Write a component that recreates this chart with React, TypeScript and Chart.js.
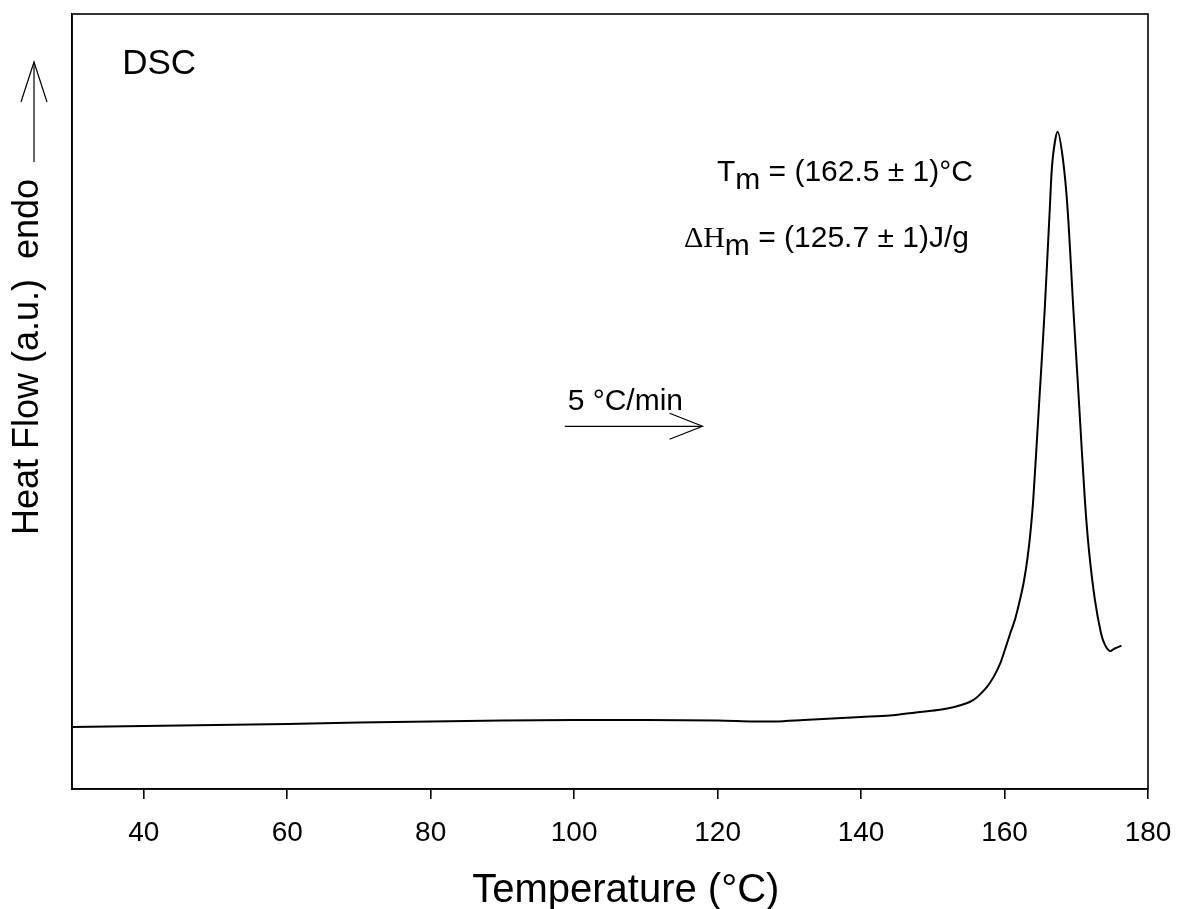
import React, { useEffect, useRef } from "react";
import { Chart, registerables } from "chart.js";

Chart.register(...registerables);

// Temperature (°C)
const temperature = [30, 40, 50, 60, 70, 80, 90, 100, 110, 120, 125, 128, 132, 136, 140, 144, 148.2, 151, 153, 154.7, 155.5, 156.3, 157.5, 158.5, 159.4, 160.1, 160.8, 161.5, 162.2, 162.7, 163.2, 163.6, 164.0, 164.85, 165.6, 166.3, 166.7, 167.4, 168.15, 168.8, 169.6, 170.36, 171.2, 171.77, 172.6, 173.45, 174.0, 174.7, 175.3, 176.3];
// Heat flow (a.u.)
const heatFlow = [8.0, 8.13, 8.26, 8.39, 8.58, 8.71, 8.84, 8.9, 8.9, 8.84, 8.71, 8.71, 8.9, 9.1, 9.29, 9.48, 9.94, 10.22, 10.58, 11.06, 11.4, 11.95, 13.1, 14.5, 16.2, 18.1, 20.1, 22.0, 24.6, 26.8, 29.8, 33.0, 37.3, 50.2, 61.8, 74.7, 81.2, 84.8, 81.2, 74.7, 61.8, 50.2, 37.3, 30.8, 24.4, 20.1, 18.6, 17.8, 18.1, 18.5];
const xTickValues = [40, 60, 80, 100, 120, 140, 160, 180];

const xTitle = "Temperature (°C)";
const yTitle = "Heat Flow (a.u.)  endo";
const panelLabel = "DSC";
const tmLabel = " = (162.5 ± 1)°C";
const dhLabel = " = (125.7 ± 1)J/g";
const rateLabel = "5 °C/min";

const SANS = "'Liberation Sans', Arial, sans-serif";
const SERIF = "'Liberation Serif', 'Times New Roman', serif";

function arrowHead(ctx: CanvasRenderingContext2D, tx: number, ty: number, dx: number, dy: number, len: number, half: number) {
  const bx = tx - dx * len;
  const by = ty - dy * len;
  const px = -dy, py = dx;
  ctx.beginPath();
  ctx.moveTo(bx + px * half, by + py * half);
  ctx.lineTo(tx, ty);
  ctx.lineTo(bx - px * half, by - py * half);
  ctx.stroke();
}

const annotPlugin = {
  id: "annot",
  afterDraw(chart: any) {
    const { ctx, chartArea: ca, scales } = chart;
    const x = scales.x;
    const y = scales.y;
    ctx.save();
    ctx.strokeStyle = "#000";
    ctx.fillStyle = "#000";
    ctx.lineWidth = 1.6;
    ctx.strokeRect(ca.left, ca.top, ca.right - ca.left, ca.bottom - ca.top);

    ctx.textBaseline = "alphabetic";
    ctx.textAlign = "left";

    // DSC
    ctx.font = `35px ${SANS}`;
    ctx.fillText(panelLabel, x.getPixelForValue(37.0), y.getPixelForValue(92.3));

    // Tm
    let px = x.getPixelForValue(119.9);
    let py = y.getPixelForValue(78.5);
    ctx.font = `30px ${SANS}`;
    ctx.fillText("T", px, py);
    px += ctx.measureText("T").width;
    ctx.fillText("m", px, py + 8);
    px += ctx.measureText("m").width;
    ctx.fillText(tmLabel, px, py);

    // Delta H m
    px = x.getPixelForValue(115.3);
    py = y.getPixelForValue(70.0);
    ctx.font = `30px ${SERIF}`;
    ctx.fillText("ΔH", px, py);
    px += ctx.measureText("ΔH").width;
    ctx.font = `30px ${SANS}`;
    ctx.fillText("m", px, py + 8);
    px += ctx.measureText("m").width;
    ctx.fillText(dhLabel, px, py);

    // heating rate
    ctx.font = `30px ${SANS}`;
    ctx.fillText(rateLabel, x.getPixelForValue(99.1), y.getPixelForValue(48.9));
    const ay = y.getPixelForValue(46.8);
    const ax0 = x.getPixelForValue(98.7);
    const ax1 = x.getPixelForValue(117.9);
    ctx.lineWidth = 1.2;
    ctx.beginPath();
    ctx.moveTo(ax0, ay);
    ctx.lineTo(ax1, ay);
    ctx.stroke();
    arrowHead(ctx, ax1, ay, 1, 0, 33, 13);

    // x axis title
    ctx.font = `40px ${SANS}`;
    ctx.textAlign = "center";
    ctx.fillText(xTitle, x.getPixelForValue(107.2), 902);

    // y axis title + arrow
    ctx.save();
    ctx.translate(ca.left - 34, 357);
    ctx.rotate(-Math.PI / 2);
    ctx.font = `36px ${SANS}`;
    ctx.textAlign = "center";
    ctx.textBaseline = "alphabetic";
    ctx.fillText(yTitle, 0, 0);
    ctx.restore();
    const yx = ca.left - 38;
    ctx.lineWidth = 1.2;
    ctx.beginPath();
    ctx.moveTo(yx, 162);
    ctx.lineTo(yx, 62);
    ctx.stroke();
    arrowHead(ctx, yx, 62, 0, -1, 40, 13);

    ctx.restore();
  },
};

export default function App() {
  const ref = useRef<HTMLCanvasElement | null>(null);
  useEffect(() => {
    document.body.style.margin = "0";
    const canvas = ref.current!;
    const chart = new Chart(canvas, {
      type: "line",
      data: {
        datasets: [
          {
            data: temperature.map((t, i) => ({ x: t, y: heatFlow[i] })),
            borderColor: "#000",
            borderWidth: 2,
            pointRadius: 0,
            fill: false,
            tension: 0.3,
          },
        ],
      },
      options: {
        animation: false,
        responsive: false,
        maintainAspectRatio: false,
        layout: { padding: { top: 14, right: 29, left: 0, bottom: 0 } },
        plugins: { legend: { display: false }, tooltip: { enabled: false } },
        scales: {
          x: {
            type: "linear",
            min: 30,
            max: 180,
            afterBuildTicks: (s: any) => {
              s.ticks = xTickValues.map((v) => ({ value: v }));
            },
            afterFit: (s: any) => {
              s.height = 120;
              s.paddingLeft = 0;
              s.paddingRight = 0;
            },
            grid: { drawOnChartArea: false, drawTicks: true, tickLength: 10, color: "#000", lineWidth: 1.6 },
            border: { display: true, color: "#000", width: 1.6 },
            ticks: { color: "#000", font: { family: SANS, size: 28 }, padding: 17, maxRotation: 0, autoSkip: false },
            title: { display: false, text: xTitle },
          },
          y: {
            type: "linear",
            min: 0,
            max: 100,
            afterFit: (s: any) => {
              s.width = 72;
              s.paddingTop = 0;
              s.paddingBottom = 0;
            },
            grid: { display: false },
            border: { display: true, color: "#000", width: 1.6 },
            ticks: { display: false },
          },
        },
      },
      plugins: [annotPlugin],
    } as any);
    return () => chart.destroy();
  }, []);
  return (
    <div style={{ width: 1177, height: 909 }}>
      <canvas ref={ref} width={1177} height={909} style={{ display: "block" }} />
    </div>
  );
}
